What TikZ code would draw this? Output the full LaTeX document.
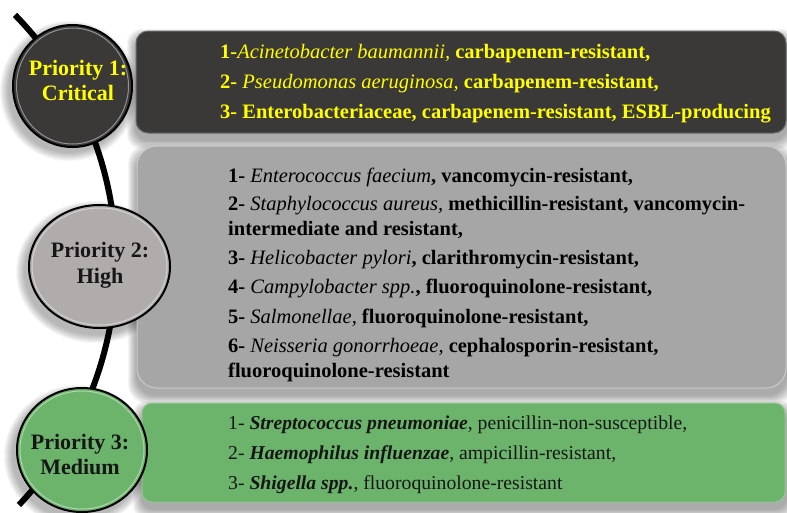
\documentclass[tikz,border=0pt]{standalone}
\usepackage{fontspec}
\setmainfont{Liberation Serif}
\usetikzlibrary{calc,shapes.geometric}
\definecolor{critfill}{HTML}{3B3838}
\definecolor{highbox}{HTML}{A6A6A6}
\definecolor{highcirc}{HTML}{B1ACAC}
\definecolor{medfill}{HTML}{6CB46C}
\definecolor{labelyellow}{HTML}{FFFF00}
\definecolor{labeldark}{HTML}{161616}
\tikzset{
  panel/.style={rectangle, inner sep=0pt, line width=1pt},
  badge/.style={ellipse, inner sep=0pt, draw=black, line width=2pt},
  badgetext/.style={anchor=base, inner sep=0pt, font=\fontsize{22}{25}\selectfont\bfseries},
  itemtext/.style={anchor=base west, inner sep=0pt, font=\fontsize{20.5}{24}\selectfont},
  spine/.style={draw=black, line width=6pt},
}
\begin{document}
\begin{tikzpicture}[x=1pt,y=-1pt]
\useasboundingbox (0,0) rectangle (787,512);
\clip (0,0) rectangle (787,512);
% soft shadows
\foreach \i in {1,...,9}{
  \fill[black,opacity=0.042,rounded corners=14pt] (136-\i,31-\i+7) rectangle (786+\i,133+\i+7);
  \fill[black,opacity=0.042,rounded corners=20pt] (137-\i,146-\i+7) rectangle (786+\i,388+\i+7);
  \fill[black,opacity=0.042,rounded corners=12pt] (142-\i,403-\i+7) rectangle (786+\i,502+\i+7);
  \fill[black,opacity=0.035] (69,91) ellipse [x radius=60+\i, y radius=61+\i];
  \fill[black,opacity=0.035] (95,272) ellipse [x radius=70+\i, y radius=62+\i];
  \fill[black,opacity=0.035] (78,456) ellipse [x radius=65+\i, y radius=62+\i];
}
% spine behind the badges
\coordinate (spinetop) at ($(-247,262)+(-43.8:363 and 357)$);
\draw[spine] (spinetop) arc[start angle=-43.8, end angle=42.9, x radius=363, y radius=357] coordinate (spinebottom);
% panels
\node[panel, fill=critfill, draw=critfill!75!white, rounded corners=12pt, minimum width=650, minimum height=102] (p1) at (461,82) {};
\node[panel, fill=highbox, draw=highbox!60!white, rounded corners=20pt, minimum width=649, minimum height=242] (p2) at (461.5,267) {};
\node[panel, fill=medfill, draw=medfill!75!white, rounded corners=10pt, minimum width=643, minimum height=99] (p3) at (463.5,452.5) {};
% badges
\node[badge, fill=critfill, minimum width=119, minimum height=122] (c1) at (72.5,86) {};
\node[badge, fill=highcirc, minimum width=141, minimum height=123] (c2) at (99.5,266.5) {};
\node[badge, fill=medfill, minimum width=130, minimum height=124] (c3) at (82,450) {};
\draw[white, opacity=0.45, line width=1pt] (c1.center) ellipse [x radius=56, y radius=58];
\draw[white, opacity=0.45, line width=1pt] (c2.center) ellipse [x radius=67.5, y radius=58.5];
\draw[white, opacity=0.45, line width=1pt] (c3.center) ellipse [x radius=62, y radius=59];
% badge labels
\node[badgetext, text=labelyellow] (c1a) at (78,75) {Priority 1:};
\node[badgetext, text=labelyellow] (c1b) at (78,100) {Critical};
\node[badgetext, text=labeldark] (c2a) at (100,257) {Priority 2:};
\node[badgetext, text=labeldark] (c2b) at (100,283) {High};
\node[badgetext, text=labeldark] (c3a) at (80,449) {Priority 3:};
\node[badgetext, text=labeldark] (c3b) at (80,474) {Medium};
% panel 1 items
\begin{scope}[every node/.append style={itemtext, text=labelyellow, font=\fontsize{20.5}{24}\selectfont\bfseries}]
\node (i11) at (220,58) {1-{\mdseries\itshape Acinetobacter baumannii,} carbapenem-resistant,};
\node (i12) at (220,88) {2- {\mdseries\itshape Pseudomonas aeruginosa,} carbapenem-resistant,};
\node (i13) at (220,118) {3- Enterobacteriaceae, carbapenem-resistant, ESBL-producing};
\end{scope}
% panel 2 items
\begin{scope}[every node/.append style={itemtext, text=black, font=\fontsize{20.5}{24}\selectfont\bfseries}]
\node (i21) at (228,182) {1- {\mdseries\itshape Enterococcus faecium}, vancomycin-resistant,};
\node (i22) at (228,210) {2- {\mdseries\itshape Staphylococcus aureus,} methicillin-resistant, vancomycin-};
\node (i22b) at (228,235) {intermediate and resistant,};
\node (i23) at (228,264) {3- {\mdseries\itshape Helicobacter pylori}, clarithromycin-resistant,};
\node (i24) at (228,293) {4- {\mdseries\itshape Campylobacter spp.}, fluoroquinolone-resistant,};
\node (i25) at (228,323) {5- {\mdseries\itshape Salmonellae,} fluoroquinolone-resistant,};
\node (i26) at (228,352) {6- {\mdseries\itshape Neisseria gonorrhoeae,} cephalosporin-resistant,};
\node (i26b) at (228,377) {fluoroquinolone-resistant};
\end{scope}
% panel 3 items
\begin{scope}[every node/.append style={itemtext, text=labeldark, font=\fontsize{19.7}{24}\selectfont}]
\node (i31) at (228,429) {1- {\bfseries\itshape Streptococcus pneumoniae},\ penicillin-non-susceptible,};
\node (i32) at (228,459) {2- {\bfseries\itshape Haemophilus influenzae}, ampicillin-resistant,};
\node (i33) at (228,489) {3- {\bfseries\itshape Shigella spp.},\ fluoroquinolone-resistant};
\end{scope}
\end{tikzpicture}
\end{document}
